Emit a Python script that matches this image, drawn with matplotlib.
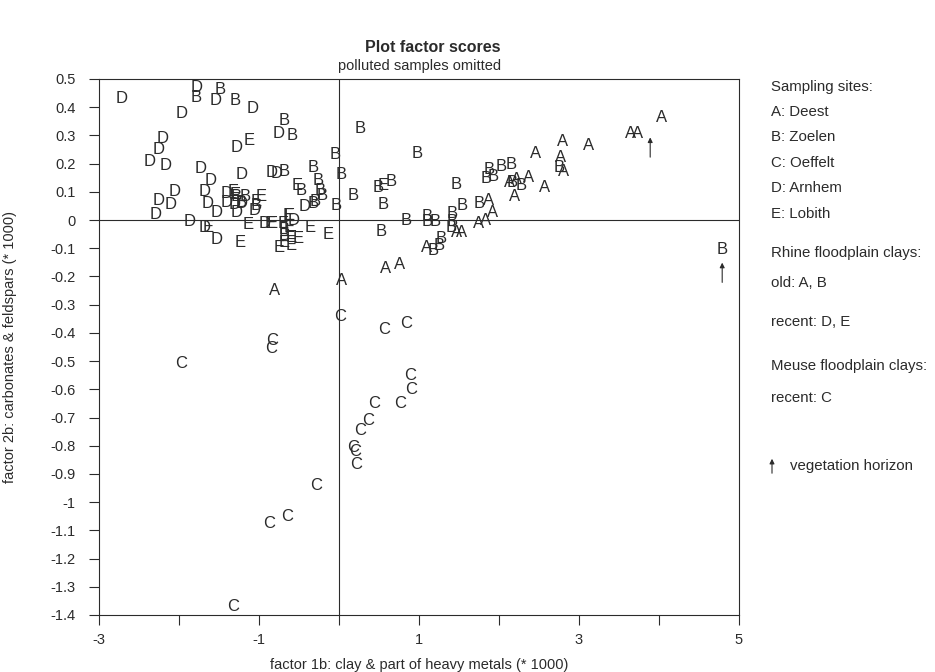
import numpy as np
import matplotlib
matplotlib.use("Agg")
import matplotlib.pyplot as plt

plt.rcParams['font.family'] = ['Liberation Sans', 'DejaVu Sans']

# ── Factor scores per sampling site ─────────────────────────────
a_x = [4.03, 3.64, 3.73, 3.125, 2.79, 2.77, 2.81, 2.46, 2.57, 2.13, 2.22, 2.375,
       2.19, 1.875, 1.92, 1.83, 1.74, 1.475, 1.53, 1.09, 0.58, 0.76, 0.03, -0.80]
a_y = [0.365, 0.306, 0.306, 0.264, 0.279, 0.221, 0.173, 0.237, 0.114, 0.134, 0.143, 0.150,
       0.084, 0.069, 0.028, -0.002, -0.011, -0.043, -0.043, -0.096, -0.173, -0.158, -0.215, -0.248]

b_x = [-1.78, -1.49, -1.30, -0.69, -0.58, -0.05, 0.27, 0.975, 0.03, -0.69, -0.32,
       -0.26, -0.23, -0.21, -0.30, -0.47, -0.325, -0.03, 0.175, 0.49, 0.655, 0.55,
       1.46, 0.84, 1.10, 1.10, 1.20, 1.42, 1.42, 1.405, 1.54, 1.75, 0.53, 1.175,
       1.25, 1.28, 1.875, 1.84, 1.93, 2.03, 2.155, 2.28, 2.17, 2.75, 4.79,
       -1.285, -1.17, -1.22, -1.04, -0.69, -0.69]
b_y = [0.435, 0.462, 0.424, 0.353, 0.300, 0.232, 0.323, 0.235, 0.161, 0.173, 0.187,
       0.140, 0.105, 0.087, 0.067, 0.105, 0.060, 0.051, 0.087, 0.114, 0.137, 0.055,
       0.125, 0.000, 0.014, -0.004, -0.004, 0.022, -0.004, -0.028, 0.051, 0.058, -0.040, -0.108,
       -0.090, -0.067, 0.178, 0.146, 0.156, 0.190, 0.197, 0.122, 0.134, 0.187, -0.106,
       0.083, 0.083, 0.063, 0.050, -0.035, -0.055]

c_x = [0.02, 0.56, 0.84, -0.83, -0.845, -1.97, 0.895, 0.905, 0.445, 0.77, 0.36,
       0.26, 0.175, 0.20, 0.22, -0.29, -0.65, -0.87, -1.325]
c_y = [-0.341, -0.388, -0.365, -0.427, -0.457, -0.510, -0.551, -0.599, -0.650, -0.652, -0.711,
       -0.746, -0.806, -0.820, -0.867, -0.941, -1.051, -1.077, -1.371]

d_x = [-2.72, -1.78, -1.54, -1.08, -1.97, -0.76, -2.21, -2.25, -1.285, -2.37, -2.17,
       -1.73, -1.22, -0.84, -0.775, -1.60, -2.06, -1.68, -2.26, -2.11, -1.64, -2.29,
       -1.53, -1.41, -1.41, -1.30, -1.22, -1.275, -1.05, -0.43, -1.87, -1.68, -1.53,
       -0.93, -0.57]
d_y = [0.430, 0.469, 0.424, 0.396, 0.377, 0.306, 0.288, 0.249, 0.258, 0.209, 0.193,
       0.184, 0.161, 0.170, 0.166, 0.140, 0.102, 0.102, 0.069, 0.054, 0.057, 0.020,
       0.026, 0.093, 0.063, 0.055, 0.060, 0.028, 0.035, 0.048, -0.006, -0.026, -0.070,
       -0.011, -0.002]

e_x = [-1.12, -1.32, -1.30, -0.97, -1.03, -0.525, -1.64, -1.14, -1.24, -0.86, -0.625,
       -0.83, -0.70, -0.625, -0.595, -0.51, -0.68, -0.595, -0.75, -0.36, -0.14, 0.55,
       -0.64]
e_y = [0.282, 0.102, 0.090, 0.083, 0.067, 0.122, -0.028, -0.016, -0.079, -0.013, 0.016,
       -0.013, -0.013, -0.028, -0.061, -0.067, -0.079, -0.090, -0.099, -0.025, -0.051, 0.122,
       0.016]

# samples with a vegetation horizon (arrow position)
veg_x = [3.89, 4.79]
veg_y = [0.258, -0.186]

sites = [("A", a_x, a_y), ("B", b_x, b_y), ("C", c_x, c_y),
         ("D", d_x, d_y), ("E", e_x, e_y)]

x_ticks = np.arange(-3, 6, 1)
x_labels = ["-3", "", "-1", "", "1", "", "3", "", "5"]
y_ticks = np.round(np.arange(-1.4, 0.51, 0.1), 1)
y_labels = [("%g" % v) for v in y_ticks]

legend_lines = [
    ("Sampling sites:", 87), ("A: Deest", 112), ("B: Zoelen", 137),
    ("C: Oeffelt", 163), ("D: Arnhem", 188), ("E: Lobith", 214),
    ("Rhine floodplain clays:", 253), ("old: A, B", 283), ("recent: D, E", 322),
    ("Meuse floodplain clays:", 366), ("recent: C", 398),
]

ink = "#2b2b2b"

# ── Figure ──────────────────────────────────────────────
fig = plt.figure(figsize=(9.35, 6.72), dpi=100)
ax = fig.add_axes([99 / 935, 1 - 615 / 672, 640 / 935, 536 / 672])

ax.set_xlim(-3, 5)
ax.set_ylim(-1.4, 0.5)
ax.axhline(0, color=ink, lw=0.8)
ax.axvline(0, color=ink, lw=0.8)

for letter, xs, ys in sites:
    for x, y in zip(xs, ys):
        ax.text(x, y, letter, ha="center", va="center", fontsize=12, color=ink)

for x, y in zip(veg_x, veg_y):
    ax.annotate("", xy=(x, y + 0.035), xytext=(x, y - 0.035),
                arrowprops=dict(arrowstyle="-|>", color=ink, lw=0.8,
                                mutation_scale=7, shrinkA=0, shrinkB=0))

ax.set_xticks(x_ticks)
ax.set_xticklabels(x_labels)
ax.set_yticks(y_ticks)
ax.set_yticklabels(y_labels)
ax.tick_params(direction="out", length=7, width=0.8, colors=ink, labelsize=10.5)
ax.tick_params(axis="y", pad=10)
ax.tick_params(axis="x", pad=6)
for s in ax.spines.values():
    s.set_color(ink)
    s.set_linewidth(0.8)

ax.set_xlabel("factor 1b: clay & part of heavy metals (* 1000)", fontsize=10.5, color=ink)
ax.xaxis.set_label_coords(0.5, -0.08)
ax.set_ylabel("factor 2b: carbonates & feldspars (* 1000)", fontsize=10.5, color=ink)
ax.yaxis.set_label_coords(-0.128, 0.5)

fig.text(433 / 935, 1 - 47 / 672, "Plot factor scores", ha="center", va="center",
         fontsize=11.5, fontweight="bold", color=ink)
fig.text(420 / 935, 1 - 66 / 672, "polluted samples omitted", ha="center", va="center",
         fontsize=10.5, color=ink)

for txt, py in legend_lines:
    fig.text(771 / 935, 1 - py / 672, txt, ha="left", va="center", fontsize=10.8, color=ink)
fig.text(790 / 935, 1 - 466 / 672, "vegetation horizon", ha="left", va="center",
         fontsize=10.8, color=ink)
fig.patches.append(matplotlib.patches.FancyArrowPatch(
    (772 / 935, 1 - 476 / 672), (772 / 935, 1 - 456 / 672), transform=fig.transFigure,
    arrowstyle="-|>", mutation_scale=7, color=ink, lw=0.8))

fig.savefig("out.png", dpi=100)
